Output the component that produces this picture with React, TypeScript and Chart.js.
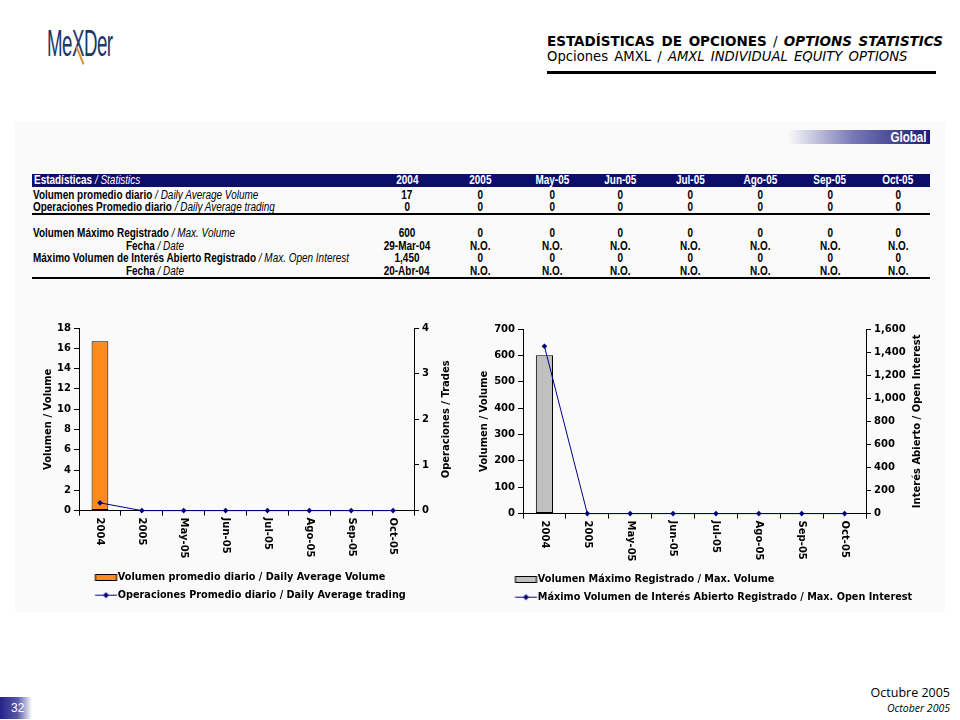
import React, { useEffect, useRef } from 'react';
import { Chart, registerables } from 'chart.js';

Chart.register(...registerables);

// ---------- data ----------
const categories = ['2004', '2005', 'May-05', 'Jun-05', 'Jul-05', 'Ago-05', 'Sep-05', 'Oct-05'];
const avgDailyVolume = [16.7, 0, 0, 0, 0, 0, 0, 0];
const avgDailyTrades = [0.17, 0, 0, 0, 0, 0, 0, 0];
const maxVolume = [600, 0, 0, 0, 0, 0, 0, 0];
const maxOpenInterest = [1450, 0, 0, 0, 0, 0, 0, 0];

const rowAvgVolume = ['17', '0', '0', '0', '0', '0', '0', '0'];
const rowAvgTrading = ['0', '0', '0', '0', '0', '0', '0', '0'];
const rowMaxVolume = ['600', '0', '0', '0', '0', '0', '0', '0'];
const rowMaxVolumeDate = ['29-Mar-04', 'N.O.', 'N.O.', 'N.O.', 'N.O.', 'N.O.', 'N.O.', 'N.O.'];
const rowMaxOpenInterest = ['1,450', '0', '0', '0', '0', '0', '0', '0'];
const rowMaxOpenInterestDate = ['20-Abr-04', 'N.O.', 'N.O.', 'N.O.', 'N.O.', 'N.O.', 'N.O.', 'N.O.'];

const legendLeft = ['Volumen promedio diario / Daily Average Volume', 'Operaciones Promedio diario / Daily Average trading'];
const legendRight = ['Volumen Máximo Registrado / Max. Volume', 'Máximo Volumen de Interés Abierto Registrado / Max. Open Interest'];

// ---------- styles ----------
const ARIAL = '"Liberation Sans", Arial, sans-serif';
const NARROW_SCALE = 0.83;
const VERDANA = '"DejaVu Sans", Verdana, sans-serif';
const colEdges = [372, 442, 518, 586, 654, 726, 794, 866, 930];
const NAVY = '#000080';

function makeSwatch(kind: 'bar' | 'line', fill: string, stroke: string, totalW: number, offset: number) {
  const c = document.createElement('canvas');
  c.width = totalW;
  c.height = 9;
  const g = c.getContext('2d')!;
  if (kind === 'bar') {
    g.fillStyle = fill;
    g.fillRect(offset, 1, 22, 7);
    g.strokeStyle = stroke;
    g.lineWidth = 1;
    g.strokeRect(offset + 0.5, 1.5, 21, 6);
  } else {
    g.strokeStyle = stroke;
    g.lineWidth = 1;
    g.beginPath();
    g.moveTo(offset, 4.5);
    g.lineTo(offset + 22, 4.5);
    g.stroke();
    g.fillStyle = stroke;
    g.beginPath();
    g.moveTo(offset + 11, 1.5);
    g.lineTo(offset + 14, 4.5);
    g.lineTo(offset + 11, 7.5);
    g.lineTo(offset + 8, 4.5);
    g.closePath();
    g.fill();
  }
  return c;
}

const axisTextPlugin = {
  id: 'axisText',
  afterDraw(chart: any, _args: any, opts: any) {
    const { ctx, chartArea } = chart;
    const xs = chart.scales.x;
    ctx.save();
    ctx.fillStyle = '#000';
    ctx.font = 'bold 10px ' + VERDANA;
    ctx.textAlign = 'left';
    ctx.textBaseline = 'middle';
    (xs.getLabels() as string[]).forEach((lab, i) => {
      const px = xs.getPixelForValue(i);
      ctx.save();
      ctx.translate(px, chartArea.bottom + opts.labelGap);
      ctx.rotate(Math.PI / 2);
      ctx.fillText(lab, 0, 0);
      ctx.restore();
    });
    ctx.textAlign = 'center';
    const midY = (chartArea.top + chartArea.bottom) / 2;
    const titles: [string, number][] = [
      [opts.leftTitle, chartArea.left - opts.leftOffset],
      [opts.rightTitle, chartArea.right + opts.rightOffset],
    ];
    titles.forEach(([t, x]) => {
      ctx.save();
      ctx.translate(x, midY);
      ctx.rotate(-Math.PI / 2);
      ctx.fillText(t, 0, 0);
      ctx.restore();
    });
    ctx.restore();
  },
};

type ComboProps = {
  left: number; top: number; width: number; height: number;
  bars: number[]; line: number[]; barColor: string;
  barLabel: string; lineLabel: string;
  yMax: number; yStep: number; y1Max: number; y1Step: number;
  yW: number; y1W: number; xH: number; padTop: number; padBottom: number;
  leftTitle: string; rightTitle: string; leftOffset: number; rightOffset: number;
  swW: number; swTotal: number; swOffset: number;
};

function ComboChart(p: ComboProps) {
  const ref = useRef<HTMLCanvasElement>(null);
  useEffect(() => {
    const tickFont = { family: VERDANA, weight: 'bold' as const, size: 10 };
    const barSw = makeSwatch('bar', p.barColor, '#000', p.swTotal, p.swOffset);
    const lineSw = makeSwatch('line', NAVY, NAVY, p.swTotal, p.swOffset);
    const chart = new Chart(ref.current!, {
      type: 'bar',
      data: {
        labels: categories,
        datasets: [
          {
            type: 'bar',
            label: p.barLabel,
            data: p.bars,
            backgroundColor: p.barColor,
            borderColor: '#000',
            borderWidth: 1,
            borderSkipped: false,
            yAxisID: 'y',
            order: 1,
            categoryPercentage: 1,
            barPercentage: 0.4,
          } as any,
          {
            type: 'line',
            label: p.lineLabel,
            data: p.line,
            borderColor: NAVY,
            backgroundColor: NAVY,
            borderWidth: 1,
            pointStyle: 'rectRot',
            pointRadius: 2.8,
            pointBackgroundColor: NAVY,
            pointBorderColor: NAVY,
            pointBorderWidth: 0,
            tension: 0,
            yAxisID: 'y1',
            order: 0,
            clip: false,
          } as any,
        ],
      },
      options: {
        animation: false,
        responsive: false,
        devicePixelRatio: 1,
        locale: 'en-US',
        events: [],
        layout: { padding: { top: p.padTop, bottom: p.padBottom, left: 0, right: 0 } },
        scales: {
          x: {
            type: 'category',
            offset: true,
            grid: { display: true, drawOnChartArea: false, drawTicks: true, tickLength: 5, color: '#000', offset: true },
            border: { display: true, color: '#000', width: 1 },
            ticks: { display: false },
            afterFit: (s: any) => { s.height = p.xH; },
          },
          y: {
            position: 'left',
            min: 0,
            max: p.yMax,
            ticks: { stepSize: p.yStep, color: '#000', font: tickFont, padding: 3 },
            grid: { drawOnChartArea: false, drawTicks: true, tickLength: 5, color: '#000' },
            border: { display: true, color: '#000', width: 1 },
            afterFit: (s: any) => { s.width = p.yW; },
          },
          y1: {
            position: 'right',
            min: 0,
            max: p.y1Max,
            ticks: { stepSize: p.y1Step, color: '#000', font: tickFont, padding: 3 },
            grid: { drawOnChartArea: false, drawTicks: true, tickLength: 5, color: '#000' },
            border: { display: true, color: '#000', width: 1 },
            afterFit: (s: any) => { s.width = p.y1W; },
          },
        } as any,
        plugins: {
          tooltip: { enabled: false },
          legend: {
            position: 'bottom',
            align: 'start',
            fullSize: true,
            labels: {
              usePointStyle: true,
              pointStyleWidth: p.swW,
              padding: 8,
              color: '#000',
              font: { family: VERDANA, weight: 'bold', size: 9.7 },
              generateLabels: (chart: any) => {
                const items = (Chart.defaults.plugins.legend.labels as any).generateLabels(chart);
                items.sort((a: any, b: any) => a.datasetIndex - b.datasetIndex);
                items.forEach((it: any) => {
                  it.pointStyle = it.datasetIndex === 0 ? barSw : lineSw;
                  it.fontColor = '#000';
                });
                return items;
              },
            },
          } as any,
          axisText: {
            labelGap: 7,
            leftTitle: p.leftTitle,
            rightTitle: p.rightTitle,
            leftOffset: p.leftOffset,
            rightOffset: p.rightOffset,
          },
        } as any,
      },
      plugins: [axisTextPlugin],
    });
    return () => chart.destroy();
  }, []);
  return (
    <canvas
      ref={ref}
      width={p.width}
      height={p.height}
      style={{ position: 'absolute', left: p.left, top: p.top, width: p.width, height: p.height }}
    />
  );
}

function Narrow(props: { children: React.ReactNode; origin: string }) {
  return (
    <span style={{ display: 'inline-block', transform: `scaleX(${NARROW_SCALE})`, transformOrigin: props.origin, whiteSpace: 'nowrap' }}>
      {props.children}
    </span>
  );
}

function TableRow(props: { top: number; bold: string; italic: string; indent: number; values: string[]; color?: string }) {
  return (
    <div style={{ position: 'absolute', left: 0, top: props.top, width: 960, height: 13, lineHeight: '13px', fontFamily: ARIAL, fontSize: 12, color: props.color ?? '#000' }}>
      <div style={{ position: 'absolute', left: 33 + props.indent, top: 0, whiteSpace: 'nowrap' }}>
        <Narrow origin="left center">
          <span style={{ fontWeight: 'bold' }}>{props.bold}</span>
          <span style={{ fontStyle: 'italic' }}>{props.italic}</span>
        </Narrow>
      </div>
      {props.values.map((v, i) => (
        <div key={i} style={{ position: 'absolute', left: colEdges[i], top: 0, width: colEdges[i + 1] - colEdges[i], textAlign: 'center', fontWeight: 'bold' }}>
          <Narrow origin="center center">{v}</Narrow>
        </div>
      ))}
    </div>
  );
}

export default function App() {
  return (
    <div style={{ position: 'absolute', left: 0, top: 0, width: 960, height: 720, background: '#fff', overflow: 'hidden' }}>
      {/* logo */}
      <div style={{ position: 'absolute', left: 47, top: 24, height: 40, fontFamily: ARIAL, fontSize: 36, lineHeight: '40px', color: '#1d3768', transform: 'scaleX(0.52)', transformOrigin: 'left top', whiteSpace: 'nowrap', letterSpacing: -1 }}>
        MeXDer
      </div>
      <div style={{ position: 'absolute', left: 79, top: 46, width: 2, height: 19, background: '#d9923a', transform: 'rotate(-22deg)' }} />

      {/* title */}
      <div style={{ position: 'absolute', left: 547, top: 33, whiteSpace: 'nowrap', fontFamily: VERDANA, fontSize: 13.5, lineHeight: '16px', color: '#000', wordSpacing: 2 }}>
        <span style={{ fontWeight: 'bold' }}>ESTADÍSTICAS DE OPCIONES</span>
        <span> / </span>
        <span style={{ fontWeight: 'bold', fontStyle: 'italic' }}>OPTIONS STATISTICS</span>
      </div>
      <div style={{ position: 'absolute', left: 547, top: 49, whiteSpace: 'nowrap', fontFamily: VERDANA, fontSize: 13.2, lineHeight: '16px', color: '#000', wordSpacing: 2 }}>
        <span>Opciones AMXL / </span>
        <span style={{ fontStyle: 'italic' }}>AMXL INDIVIDUAL EQUITY OPTIONS</span>
      </div>
      <div style={{ position: 'absolute', left: 547, top: 71, width: 389, height: 3, background: '#000' }} />

      {/* panel */}
      <div style={{ position: 'absolute', left: 15, top: 121, width: 930, height: 491, background: '#fafafa' }} />

      {/* Global banner */}
      <div style={{ position: 'absolute', left: 788, top: 130, width: 142, height: 14, background: 'linear-gradient(to right, rgba(250,250,250,1) 0%, #7a7ab8 45%, #1c1c78 100%)' }}>
        <div style={{ position: 'absolute', right: 3, top: 0, lineHeight: '14px', fontFamily: ARIAL, fontWeight: 'bold', fontSize: 14, color: '#fff' }}>
          <Narrow origin="right center">Global</Narrow>
        </div>
      </div>

      {/* table header */}
      <div style={{ position: 'absolute', left: 32, top: 174, width: 898, height: 13, background: '#0d0d6b' }} />
      <div style={{ position: 'absolute', left: 0, top: 174, width: 960, height: 13, lineHeight: '13px', fontFamily: ARIAL, fontSize: 12, color: '#fff' }}>
        <div style={{ position: 'absolute', left: 34, top: 0, whiteSpace: 'nowrap' }}>
          <Narrow origin="left center">
            <span style={{ fontWeight: 'bold' }}>Estadísticas</span>
            <span style={{ fontStyle: 'italic' }}> / Statistics</span>
          </Narrow>
        </div>
        {categories.map((c, i) => (
          <div key={i} style={{ position: 'absolute', left: colEdges[i], top: 0, width: colEdges[i + 1] - colEdges[i], textAlign: 'center', fontWeight: 'bold' }}>
            <Narrow origin="center center">{c}</Narrow>
          </div>
        ))}
      </div>

      <TableRow top={188.5} bold="Volumen promedio diario" italic=" / Daily Average Volume" indent={0} values={rowAvgVolume} />
      <TableRow top={200.5} bold="Operaciones Promedio diario" italic=" / Daily Average trading" indent={0} values={rowAvgTrading} />
      <div style={{ position: 'absolute', left: 32, top: 213, width: 898, height: 2, background: '#000' }} />
      <TableRow top={226.5} bold="Volumen Máximo Registrado" italic=" / Max. Volume" indent={0} values={rowMaxVolume} />
      <TableRow top={239.5} bold="Fecha" italic=" / Date" indent={93} values={rowMaxVolumeDate} />
      <TableRow top={252} bold="Máximo Volumen de Interés Abierto Registrado" italic=" / Max. Open Interest" indent={0} values={rowMaxOpenInterest} />
      <TableRow top={264.5} bold="Fecha" italic=" / Date" indent={93} values={rowMaxOpenInterestDate} />
      <div style={{ position: 'absolute', left: 32, top: 277, width: 898, height: 2, background: '#000' }} />

      {/* charts */}
      <ComboChart
        left={30} top={318} width={440} height={300}
        bars={avgDailyVolume} line={avgDailyTrades} barColor="#ff8c1a"
        barLabel={legendLeft[0]} lineLabel={legendLeft[1]}
        yMax={18} yStep={2} y1Max={4} y1Step={1}
        yW={49} y1W={56} xH={54} padTop={10} padBottom={8}
        leftTitle="Volumen / Volume" rightTitle="Operaciones / Trades" leftOffset={31} rightOffset={32}
        swW={75} swTotal={100} swOffset={69.5}
      />
      <ComboChart
        left={470} top={318} width={490} height={300}
        bars={maxVolume} line={maxOpenInterest} barColor="#c0c0c0"
        barLabel={legendRight[0]} lineLabel={legendRight[1]}
        yMax={700} yStep={100} y1Max={1600} y1Step={200}
        yW={53} y1W={94} xH={53} padTop={11} padBottom={6}
        leftTitle="Volumen / Volume" rightTitle="Interés Abierto / Open Interest" leftOffset={39} rightOffset={51}
        swW={55} swTotal={80} swOffset={49.5}
      />

      {/* footer */}
      <div style={{ position: 'absolute', left: 0, top: 697, width: 32, height: 22, background: 'linear-gradient(to right, #23238a 0%, #5a5aa8 55%, #ffffff 100%)' }}>
        <div style={{ position: 'absolute', left: 11, top: 0, lineHeight: '22px', fontFamily: ARIAL, fontSize: 12, color: '#fff' }}>32</div>
      </div>
      <div style={{ position: 'absolute', right: 10, top: 685, textAlign: 'right', fontFamily: '"Open Sans", "Liberation Sans", sans-serif', fontSize: 12.5, lineHeight: '16px', color: '#000', whiteSpace: 'nowrap' }}>Octubre 2005</div>
      <div style={{ position: 'absolute', right: 10, top: 701, textAlign: 'right', fontFamily: '"Open Sans", "Liberation Sans", sans-serif', fontStyle: 'italic', fontSize: 10.5, lineHeight: '14px', color: '#000', whiteSpace: 'nowrap' }}>October 2005</div>
    </div>
  );
}
